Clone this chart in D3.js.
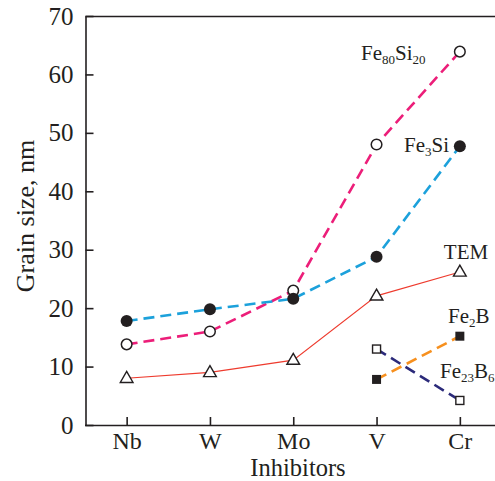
<!DOCTYPE html>
<html><head><meta charset="utf-8">
<script src="https://cdn.jsdelivr.net/npm/d3@7"></script>
<style>
html,body{margin:0;padding:0;background:#fff;}
svg{display:block;}
text{font-family:"Liberation Serif","Times New Roman",serif;fill:#231f20;}
</style></head><body>
<svg id="c" width="495" height="481"></svg>
<script>
const inhibitors = ["Nb","W","Mo","V","Cr"];
const yTicks = [0,10,20,30,40,50,60,70];
const fe80si20 = [13.8, 16.0, 23.0, 48.0, 63.9];
const fe3si = [17.8, 19.8, 21.6, 28.8, 47.7];
const tem = [8.0, 9.0, 11.1, 22.1, 26.2];
const fe2bCats = ["V","Cr"];
const fe2b = [7.8, 15.2];
const fe23b6Cats = ["V","Cr"];
const fe23b6 = [13.0, 4.2];

const svg = d3.select("#c");
const x = d3.scalePoint().domain(inhibitors).range([85, 501.5]).padding(0.5);
const y = d3.scaleLinear().domain([0,70]).range([425,16]);
const ink = "#231f20";

// frame
svg.append("line").attr("x1",85.5).attr("x2",510).attr("y1",16.5).attr("y2",16.5)
  .attr("stroke",ink).attr("stroke-width",1.6);

const gy = svg.append("g").attr("transform","translate(85.5,0)")
  .call(d3.axisLeft(y).tickValues(yTicks).tickSizeInner(-8).tickSizeOuter(0).tickPadding(12));
const gx = svg.append("g").attr("transform","translate(0,425)")
  .call(d3.axisBottom(x).tickSizeInner(-8).tickSizeOuter(0).tickPadding(7));
[gy,gx].forEach(g=>{
  g.selectAll("path,line").attr("stroke",ink).attr("stroke-width",1.6);
  g.selectAll("text").attr("font-size",25).attr("font-family","Liberation Serif, serif").attr("fill",ink);
});
gx.selectAll("text").attr("font-size",24);
gx.select(".domain").attr("d","M85,0.5H510");

svg.append("text").attr("x",298).attr("y",476).attr("text-anchor","middle")
  .attr("font-size",24.5).text("Inhibitors");
svg.append("text").attr("transform","translate(34,216) rotate(-90)").attr("text-anchor","middle")
  .attr("font-size",26).text("Grain size, nm");

function series(cats, vals, color, width, dash){
  const pts = cats.map((c,i)=>[x(c), y(vals[i])]);
  svg.append("path").attr("d", d3.line()(pts)).attr("fill","none")
    .attr("stroke",color).attr("stroke-width",width)
    .attr("stroke-dasharray",dash||null);
  return pts;
}
const p1 = series(inhibitors, fe80si20, "#ec1e79", 2.6, "11,6");
const p2 = series(inhibitors, fe3si, "#1ca1db", 2.6, "11,6");
const p3 = series(inhibitors, tem, "#ee3b2e", 1.1, null);
const p4 = series(fe2bCats, fe2b, "#f7901e", 2.6, "11,6");
const p5 = series(fe23b6Cats, fe23b6, "#2b2a7a", 2.6, "11,6");

// markers
svg.append("g").selectAll("circle").data(p1).join("circle")
  .attr("cx",d=>d[0]).attr("cy",d=>d[1]).attr("r",5.3)
  .attr("fill","#fff").attr("stroke",ink).attr("stroke-width",1.5);
svg.append("g").selectAll("circle").data(p2).join("circle")
  .attr("cx",d=>d[0]).attr("cy",d=>d[1]).attr("r",6)
  .attr("fill",ink).attr("stroke","none");
const tri = d3.symbol().type(d3.symbolTriangle).size(70);
svg.append("g").selectAll("path").data(p3).join("path")
  .attr("d",tri).attr("transform",d=>`translate(${d[0]},${d[1]+0.5})`)
  .attr("fill","#fff").attr("stroke",ink).attr("stroke-width",1.4);
svg.append("g").selectAll("rect").data(p4).join("rect")
  .attr("x",d=>d[0]-4.5).attr("y",d=>d[1]-4.5).attr("width",9).attr("height",9)
  .attr("fill",ink);
svg.append("g").selectAll("rect").data(p5).join("rect")
  .attr("x",d=>d[0]-4).attr("y",d=>d[1]-4).attr("width",8).attr("height",8)
  .attr("fill","#fff").attr("stroke",ink).attr("stroke-width",1.4);

// labels
function label(xp, yp, parts, anchor){
  const t = svg.append("text").attr("x",xp).attr("y",yp).attr("font-size",21)
    .attr("text-anchor",anchor||"start");
  parts.forEach(p=>{
    const s = t.append("tspan").text(p[0]);
    if(p[1]) s.attr("font-size",13).attr("dy",4);
    else if(p[2]) s.attr("dy",-4);
  });
}
label(361, 60, [["Fe"],["80",1],["Si",0,1],["20",1]]);
label(404, 152, [["Fe"],["3",1],["Si",0,1]]);
label(466, 259, [["TEM"]], "middle");
label(448, 323, [["Fe"],["2",1],["B",0,1]]);
label(440, 378, [["Fe"],["23",1],["B",0,1],["6",1]]);
</script>
</body></html>
